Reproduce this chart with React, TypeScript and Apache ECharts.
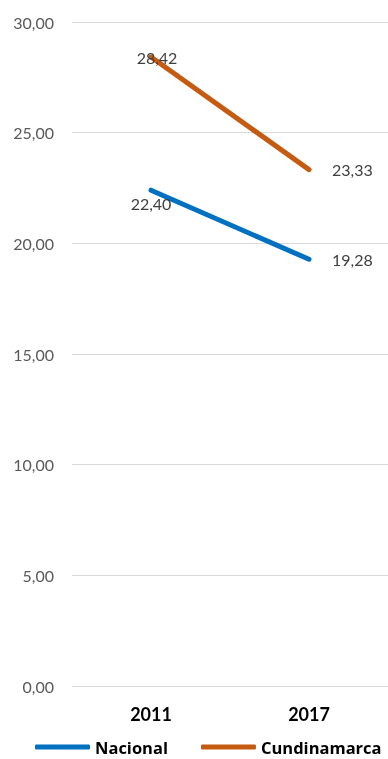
import React, { useEffect, useRef } from "react";
import * as echarts from "echarts";

const categories = ["2011", "2017"];
const nacional = [22.4, 19.28];
const cundinamarca = [28.42, 23.33];
const yTicks = { min: 0, max: 30, interval: 5 };

const fmt = (v: number) => v.toFixed(2).replace(".", ",");

export default function App() {
  const ref = useRef<HTMLDivElement>(null);
  useEffect(() => {
    const chart = echarts.init(ref.current!, undefined, { renderer: "svg" });
    const font = "Lato, 'Open Sans', sans-serif";
    const labelBase = {
      show: true,
      fontSize: 16,
      color: "#404040",
      fontFamily: font,
      formatter: (p: any) => fmt(p.value),
    };
    chart.setOption({
      animation: false,
      textStyle: { fontFamily: font },
      grid: { left: 72, right: 0, top: 22, bottom: 73 },
      xAxis: {
        type: "category",
        data: categories,
        boundaryGap: true,
        axisLine: { show: false },
        axisTick: { show: false },
        axisLabel: { margin: 19, fontSize: 18, fontWeight: "bold", color: "#000", fontFamily: font },
      },
      yAxis: {
        type: "value",
        min: yTicks.min,
        max: yTicks.max,
        interval: yTicks.interval,
        axisLine: { show: false },
        axisTick: { show: false },
        splitLine: { lineStyle: { color: "#d9d9d9", width: 1 } },
        axisLabel: { margin: 18, fontSize: 16, color: "#595959", fontFamily: font, formatter: (v: number) => fmt(v) },
      },
      legend: {
        top: 738,
        left: 35,
        padding: 0,
        itemWidth: 55,
        itemHeight: 5,
        itemGap: 33,
        icon: "roundRect",
        textStyle: { fontSize: 16.5, lineHeight: 18, fontWeight: "bold", color: "#000", fontFamily: "'Open Sans', sans-serif" },
        data: ["Nacional", "Cundinamarca"],
      },
      series: [
        {
          name: "Nacional",
          type: "line",
          symbol: "circle",
          symbolSize: 0,
          showSymbol: true,
          lineStyle: { width: 5, color: "#0070C0", cap: "round" },
          itemStyle: { color: "#0070C0" },
          label: labelBase,
          emphasis: { disabled: true },
          data: [
            { value: nacional[0], label: { position: "bottom", distance: 5 } },
            { value: nacional[1], label: { position: "right", distance: 23 } },
          ],
        },
        {
          name: "Cundinamarca",
          type: "line",
          symbol: "circle",
          symbolSize: 0,
          showSymbol: true,
          lineStyle: { width: 5, color: "#C55A11", cap: "round" },
          itemStyle: { color: "#C55A11" },
          label: labelBase,
          emphasis: { disabled: true },
          data: [
            { value: cundinamarca[0], label: { position: "inside", offset: [6, 1] } },
            { value: cundinamarca[1], label: { position: "right", distance: 23 } },
          ],
        },
      ],
    });
    return () => chart.dispose();
  }, []);
  return <div ref={ref} style={{ position: "fixed", left: 0, top: 0, width: 388, height: 759 }} />;
}
